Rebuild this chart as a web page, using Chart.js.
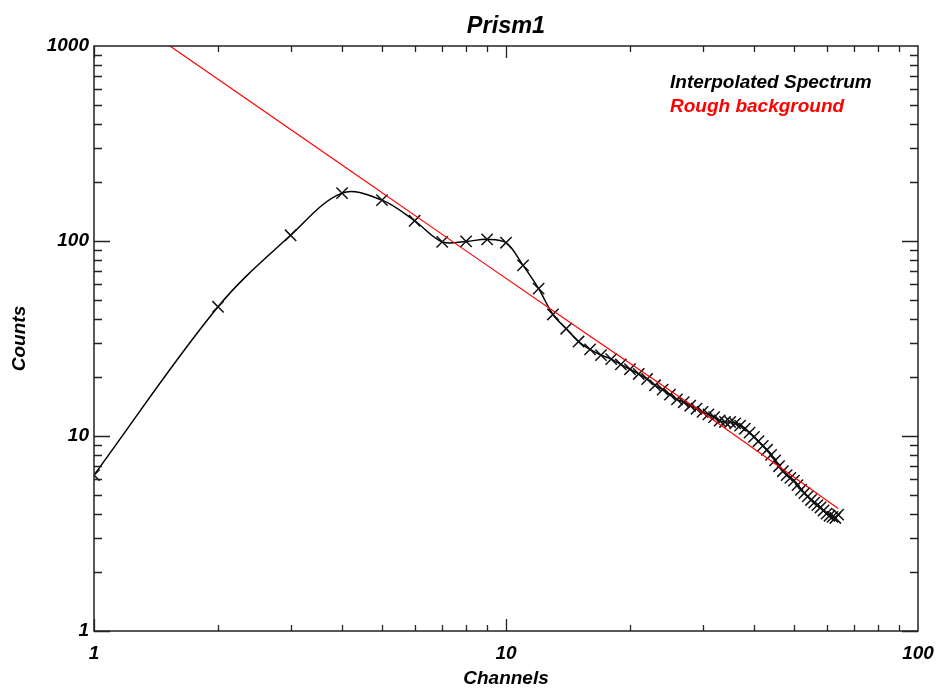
<!DOCTYPE html>
<html>
<head>
<meta charset="utf-8">
<title>Prism1</title>
<script src="https://cdn.jsdelivr.net/npm/chart.js@4.4.0/dist/chart.umd.min.js"></script>
<style>
  html, body { margin: 0; padding: 0; background: #fff; }
  #wrap { width: 938px; height: 691px; }
</style>
</head>
<body>
<div id="wrap"><canvas id="chart" width="938" height="691"></canvas></div>
<script>
// channel numbers and counts of the interpolated spectrum
const channels = [
   1,  2,  3,  4,  5,  6,  7,  8,  9, 10, 11, 12, 13, 14, 15, 16,
  17, 18, 19, 20, 21, 22, 23, 24, 25, 26, 27, 28, 29, 30, 31, 32,
  33, 34, 35, 36, 37, 38, 39, 40, 41, 42, 43, 44, 45, 46, 47, 48,
  49, 50, 51, 52, 53, 54, 55, 56, 57, 58, 59, 60, 61, 62, 63, 64
];
const spectrum = [
  6.3, 46, 107, 176, 162, 127, 99, 99.5, 102, 98, 75, 57, 42, 35.5, 30.5, 27.8,
  26, 24.8, 23.3, 22, 20.8, 19.6, 18.2, 17.3, 16.3, 15.4, 14.9, 14.3, 13.8, 13.3, 12.9, 12.5,
  12.0, 11.8, 11.8, 11.6, 11.3, 10.9, 10.4, 9.9, 9.4, 8.9, 8.5, 8.0, 7.5, 7.0, 6.6, 6.3,
  6.1, 5.9, 5.6, 5.3, 5.1, 4.9, 4.7, 4.55, 4.42, 4.3, 4.15, 4.0, 3.9, 3.85, 3.8, 3.95
];

// rough power-law background
const bgChannels = [1, 2, 4, 8, 16, 32, 64];
const background = [1860, 675, 245, 89, 32.5, 12.0, 4.25];

// labelled decades on each axis
const xTickLabels = [1, 10, 100];
const yTickLabels = [1, 10, 100, 1000];

const FONT = '"Liberation Sans", Arial, Helvetica, sans-serif';
const AXIS_COLOR = '#222';

function toPoints(xs, ys) {
  return xs.map((x, i) => ({ x: x, y: ys[i] }));
}

// box around the plot, inward tick marks on all four sides, title and legend text
const framePlugin = {
  id: 'frame',
  afterDraw(chart) {
    const ctx = chart.ctx;
    const { left, right, top, bottom } = chart.chartArea;
    const xs = chart.scales.x, ys = chart.scales.y;

    ctx.save();
    ctx.strokeStyle = AXIS_COLOR;
    ctx.lineWidth = 1.5;
    ctx.strokeRect(left, top, right - left, bottom - top);

    ctx.lineWidth = 1.3;
    ctx.beginPath();
    for (let k = 0; k < 2; k++) {
      for (let m = 1; m <= 9; m++) {
        const v = m * Math.pow(10, k);
        if (v < xs.min || v > xs.max) continue;
        const px = Math.round(xs.getPixelForValue(v)) + 0.5;
        const len = m === 1 ? 12 : 6;
        ctx.moveTo(px, bottom); ctx.lineTo(px, bottom - len);
        ctx.moveTo(px, top); ctx.lineTo(px, top + len);
      }
    }
    for (let k = 0; k < 3; k++) {
      for (let m = 1; m <= 9; m++) {
        const v = m * Math.pow(10, k);
        if (v < ys.min || v > ys.max) continue;
        const py = Math.round(ys.getPixelForValue(v)) + 0.5;
        const len = m === 1 ? 16 : 8;
        ctx.moveTo(left, py); ctx.lineTo(left + len, py);
        ctx.moveTo(right, py); ctx.lineTo(right - len, py);
      }
    }
    ctx.stroke();

    // title
    ctx.fillStyle = '#000';
    ctx.textAlign = 'center';
    ctx.textBaseline = 'alphabetic';
    ctx.font = 'italic bold 23.5px ' + FONT;
    ctx.fillText('Prism1', (left + right) / 2, 33);

    // legend, one line per dataset in its own colour
    ctx.textAlign = 'left';
    ctx.font = 'italic bold 19px ' + FONT;
    chart.data.datasets.forEach((ds, i) => {
      ctx.fillStyle = ds.borderColor;
      ctx.fillText(ds.label, 670, 88 + i * 24);
    });
    ctx.restore();
  }
};

const tickFont = { family: FONT, size: 19, weight: 'bold', style: 'italic' };

new Chart(document.getElementById('chart'), {
  type: 'scatter',
  data: {
    datasets: [
      {
        label: 'Interpolated Spectrum',
        data: toPoints(channels, spectrum),
        showLine: true,
        borderColor: '#000000',
        borderWidth: 1.5,
        tension: 0.35,
        pointStyle: 'crossRot',
        pointRadius: 8,
        pointBorderWidth: 1.5,
        pointBorderColor: '#111',
        pointBackgroundColor: 'transparent',
        order: 2
      },
      {
        label: 'Rough background',
        data: toPoints(bgChannels, background),
        showLine: true,
        borderColor: '#ff0000',
        borderWidth: 1.2,
        tension: 0,
        pointRadius: 0,
        order: 1
      }
    ]
  },
  options: {
    responsive: false,
    animation: false,
    events: [],
    devicePixelRatio: 1,
    layout: { padding: { top: 46, right: 20, left: 0, bottom: 0 } },
    plugins: {
      legend: { display: false },
      title: { display: false },
      tooltip: { enabled: false }
    },
    scales: {
      x: {
        type: 'logarithmic',
        position: 'bottom',
        min: 1,
        max: 100,
        grid: { display: false, drawTicks: false },
        border: { display: false },
        ticks: {
          autoSkip: false,
          maxRotation: 0,
          padding: 11,
          color: '#000',
          font: tickFont,
          callback: v => xTickLabels.includes(v) ? String(v) : ''
        },
        title: {
          display: true,
          text: 'Channels',
          color: '#000',
          font: tickFont,
          padding: { top: 0, bottom: 1 }
        },
        afterFit: s => {
          s.height = 60;
          s.paddingLeft = 0;
          s.paddingRight = 0;
        }
      },
      y: {
        type: 'logarithmic',
        position: 'left',
        min: 1,
        max: 1000,
        grid: { display: false, drawTicks: false },
        border: { display: false },
        ticks: {
          autoSkip: false,
          padding: 5,
          color: '#000',
          font: tickFont,
          callback: v => yTickLabels.includes(v) ? String(v) : ''
        },
        title: {
          display: true,
          text: 'Counts',
          color: '#000',
          font: tickFont,
          padding: { top: 8, bottom: 0 }
        },
        afterFit: s => {
          s.width = 94;
          s.paddingTop = 0;
          s.paddingBottom = 0;
        }
      }
    }
  },
  plugins: [framePlugin]
});
</script>
</body>
</html>
